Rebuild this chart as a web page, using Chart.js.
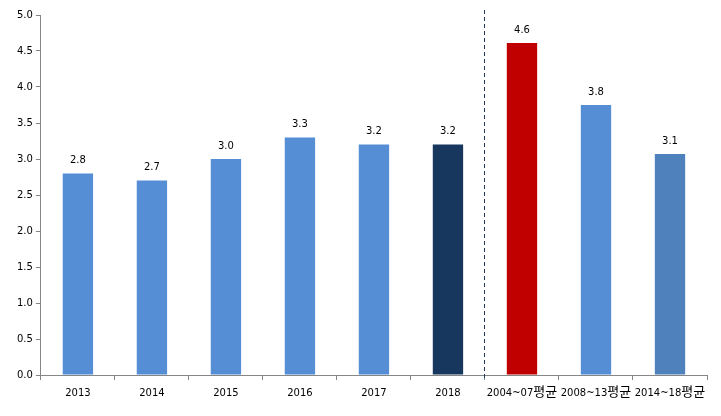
<!DOCTYPE html>
<html>
<head>
<meta charset="utf-8">
<script src="https://cdn.jsdelivr.net/npm/chart.js@4"></script>
<style>
  html, body { margin: 0; padding: 0; background: #fff; }
  #wrap { width: 721px; height: 416px; }
</style>
</head>
<body>
<div id="wrap"><canvas id="chart"></canvas></div>
<script>
const categories = ['2013', '2014', '2015', '2016', '2017', '2018', '2004~07평균', '2008~13평균', '2014~18평균'];
const values = [2.8, 2.7, 3.0, 3.3, 3.2, 3.2, 4.61, 3.75, 3.07];
const barColors = ['#558ED5', '#558ED5', '#558ED5', '#558ED5', '#558ED5', '#17375E', '#C00000', '#558ED5', '#4F81BD'];
const yTicks = [0, 0.5, 1, 1.5, 2, 2.5, 3, 3.5, 4, 4.5, 5];

const FONT = '"DejaVu Sans", Verdana, sans-serif';
const KFONT = '"Noto Sans CJK KR", sans-serif';

// value labels above bars
const valueLabels = {
  id: 'valueLabels',
  afterDatasetsDraw(chart) {
    const ctx = chart.ctx;
    const meta = chart.getDatasetMeta(0);
    ctx.save();
    ctx.font = '10px ' + FONT;
    ctx.fillStyle = '#000';
    ctx.textAlign = 'center';
    ctx.textBaseline = 'bottom';
    meta.data.forEach((bar, i) => {
      ctx.fillText(values[i].toFixed(1), bar.x, bar.y - 8);
    });
    ctx.restore();
  }
};

// category labels: latin part small, hangul part larger (like the original)
const categoryLabels = {
  id: 'categoryLabels',
  afterDraw(chart) {
    const ctx = chart.ctx;
    const x = chart.scales.x;
    const y = chart.chartArea.bottom + 21;
    ctx.save();
    ctx.fillStyle = '#000';
    ctx.textBaseline = 'alphabetic';
    categories.forEach((label, i) => {
      const parts = label.match(/[가-힣]+|[^가-힣]+/g);
      const fonts = parts.map(p => /[가-힣]/.test(p) ? '13px ' + KFONT : '10px ' + FONT);
      let total = 0;
      const widths = parts.map((p, j) => { ctx.font = fonts[j]; const w = ctx.measureText(p).width; total += w; return w; });
      let cx = x.getPixelForValue(i) - total / 2;
      parts.forEach((p, j) => {
        ctx.font = fonts[j];
        ctx.textAlign = 'left';
        ctx.fillText(p, cx, y);
        cx += widths[j];
      });
    });
    ctx.restore();
  }
};

// dashed separator between yearly values and period averages
const separator = {
  id: 'separator',
  afterDraw(chart) {
    const x = chart.scales.x;
    const pos = (x.getPixelForValue(5) + x.getPixelForValue(6)) / 2;
    const ctx = chart.ctx;
    ctx.save();
    ctx.strokeStyle = '#1F3A5A';
    ctx.lineWidth = 1;
    ctx.setLineDash([4, 3]);
    ctx.beginPath();
    ctx.moveTo(Math.round(pos) - 0.5, 10);
    ctx.lineTo(Math.round(pos) - 0.5, chart.chartArea.bottom + 5);
    ctx.stroke();
    ctx.restore();
  }
};

new Chart(document.getElementById('chart'), {
  type: 'bar',
  data: {
    labels: categories,
    datasets: [{
      data: values,
      backgroundColor: barColors,
      categoryPercentage: 1,
      barPercentage: 0.41,
    }]
  },
  options: {
    responsive: true,
    maintainAspectRatio: false,
    animation: false,
    layout: { padding: { top: 15, right: 14, left: 14, bottom: 36 } },
    plugins: { legend: { display: false }, tooltip: { enabled: false } },
    scales: {
      x: {
        grid: { display: true, drawOnChartArea: false, offset: true, tickLength: 5, color: '#868686' },
        border: { color: '#868686' },
        ticks: { display: false },
      },
      y: {
        min: 0, max: 5,
        afterBuildTicks: axis => { axis.ticks = yTicks.map(v => ({ value: v })); },
        grid: { display: true, drawOnChartArea: false, tickLength: 5, color: '#868686' },
        border: { color: '#868686' },
        ticks: { color: '#000', font: { family: FONT, size: 10 }, padding: 3, callback: v => v.toFixed(1) },
      }
    }
  },
  plugins: [valueLabels, categoryLabels, separator]
});
</script>
</body>
</html>
